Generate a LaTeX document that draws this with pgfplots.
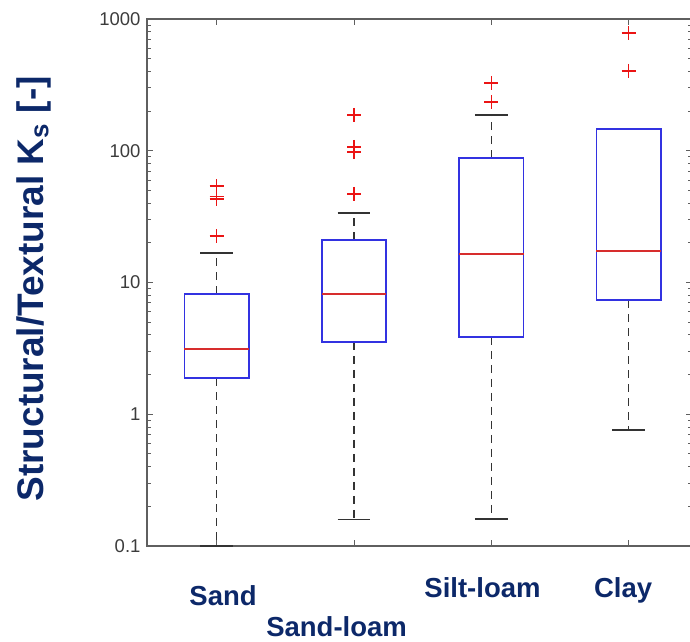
\documentclass[border=0pt]{standalone}
\usepackage{pgfplots}
\pgfplotsset{compat=1.18}
\usepackage{fontspec}
\setmainfont{Liberation Sans}
\definecolor{navy}{RGB}{12,40,105}
\definecolor{bxblue}{RGB}{50,50,225}
\definecolor{medred}{RGB}{215,45,45}
\definecolor{outred}{RGB}{235,20,20}
\definecolor{axgray}{RGB}{95,95,95}
\definecolor{tkgray}{RGB}{60,60,60}
\begin{document}
\begin{tikzpicture}
\begin{axis}[
  name=ax, at={(0,0)}, anchor=south west,
  scale only axis, width=545pt, height=527pt,
  xmin=0.492, xmax=4.462, ymin=0.1, ymax=1000, ymode=log,
  axis line style={axgray, line width=1.8pt},
  xtick={1,2,3,4}, xticklabels={},
  ytick={0.1,1,10,100,1000}, yticklabels={0.1,1,10,100,1000},
  yticklabel style={font=\fontsize{18.5}{20}\selectfont, text=tkgray, xshift=-3pt},
  tick style={axgray, line width=0.9pt},
  major tick length=6pt, minor tick length=4pt,
  tick align=inside,
  clip=false,
  ylabel={\bfseries Structural/Textural K\textsubscript{s} [-]},
  ylabel style={font=\fontsize{37}{40}\selectfont, text=navy, at={(axis description cs:-0.1908,0.488)}, anchor=base},
  boxst/.style={draw=bxblue, line width=1.6pt, mark=none, line join=miter},
  medst/.style={draw=medred, line width=1.6pt, mark=none},
  stem/.style={draw=black!80, line width=1.1pt, dash pattern=on 8pt off 6pt, mark=none},
  capst/.style={draw=black!80, line width=1.8pt, mark=none},
  outl/.style={only marks, mark=+, mark size=7pt, mark options={draw=outred, line width=1.4pt}},
]
% ---- Sand (pos 1): lw=0.1 q1=1.88 med=3.13 q3=8.2 uw=16.7
\addplot[stem]  coordinates {(1,8.2) (1,16.7)};
\addplot[stem]  coordinates {(1,1.88) (1,0.1)};
\addplot[capst] coordinates {(0.88,16.7) (1.12,16.7)};
\addplot[capst] coordinates {(0.88,0.1) (1.12,0.1)};
\addplot[boxst] coordinates {(0.765,1.88) (1.235,1.88) (1.235,8.2) (0.765,8.2) (0.765,1.88) (1.235,1.88)};
\addplot[medst] coordinates {(0.765,3.13) (1.235,3.13)};
\addplot[outl]  coordinates {(1,22.5) (1,43) (1,45) (1,54)};
% ---- Sand-loam (pos 2): lw=0.159 q1=3.55 med=8.2 q3=21.0 uw=33.7
\addplot[stem]  coordinates {(2,21.0) (2,33.7)};
\addplot[stem]  coordinates {(2,3.55) (2,0.159)};
\addplot[capst] coordinates {(1.88,33.7) (2.12,33.7)};
\addplot[capst] coordinates {(1.88,0.159) (2.12,0.159)};
\addplot[boxst] coordinates {(1.765,3.55) (2.235,3.55) (2.235,21.0) (1.765,21.0) (1.765,3.55) (2.235,3.55)};
\addplot[medst] coordinates {(1.765,8.2) (2.235,8.2)};
\addplot[outl]  coordinates {(2,47) (2,98) (2,107) (2,187)};
% ---- Silt-loam (pos 3): lw=0.161 q1=3.86 med=16.4 q3=88 uw=187
\addplot[stem]  coordinates {(3,88) (3,187)};
\addplot[stem]  coordinates {(3,3.86) (3,0.161)};
\addplot[capst] coordinates {(2.88,187) (3.12,187)};
\addplot[capst] coordinates {(2.88,0.161) (3.12,0.161)};
\addplot[boxst] coordinates {(2.765,3.86) (3.235,3.86) (3.235,88) (2.765,88) (2.765,3.86) (3.235,3.86)};
\addplot[medst] coordinates {(2.765,16.4) (3.235,16.4)};
\addplot[outl]  coordinates {(3,234) (3,327)};
% ---- Clay (pos 4): lw=0.76 q1=7.36 med=17.3 q3=146 uw=146
\addplot[stem]  coordinates {(4,7.36) (4,0.76)};
\addplot[capst] coordinates {(3.88,0.76) (4.12,0.76)};
\addplot[boxst] coordinates {(3.765,7.36) (4.235,7.36) (4.235,146) (3.765,146) (3.765,7.36) (4.235,7.36)};
\addplot[medst] coordinates {(3.765,17.3) (4.235,17.3)};
\addplot[outl]  coordinates {(4,403) (4,783)};

\node[font=\fontsize{27.5}{30}\selectfont\bfseries, text=navy, anchor=base] at (axis cs:1.046,0.1) [yshift=-59pt] {Sand};
\node[font=\fontsize{27.5}{30}\selectfont\bfseries, text=navy, anchor=base] at (axis cs:1.873,0.1) [yshift=-90pt] {Sand-loam};
\node[font=\fontsize{27.5}{30}\selectfont\bfseries, text=navy, anchor=base] at (axis cs:2.936,0.1) [yshift=-51pt] {Silt-loam};
\node[font=\fontsize{27.5}{30}\selectfont\bfseries, text=navy, anchor=base] at (axis cs:3.96,0.1) [yshift=-51pt] {Clay};
\end{axis}
\pgfresetboundingbox
\path[use as bounding box] ([xshift=-147pt,yshift=-95pt]ax.south west) rectangle ([xshift=-2pt,yshift=19pt]ax.north east);
\end{tikzpicture}
\end{document}
